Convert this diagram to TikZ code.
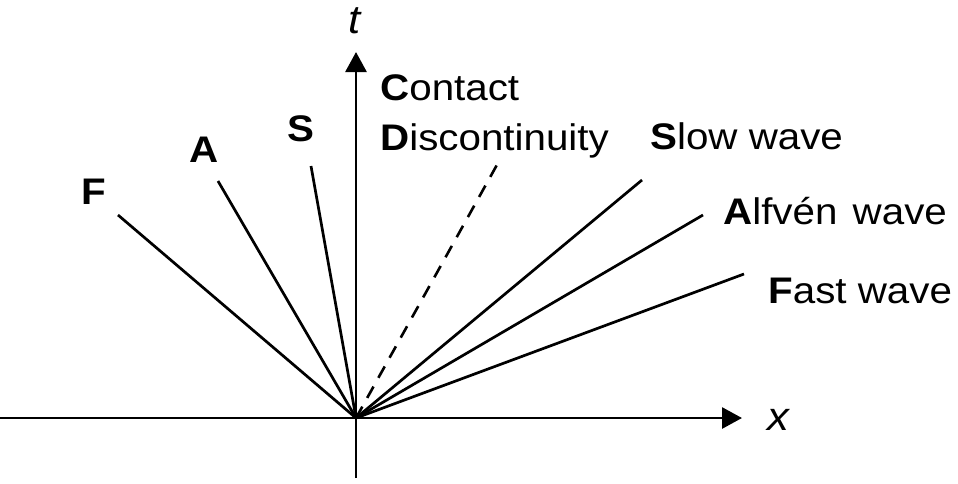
\documentclass[tikz,border=0pt]{standalone}
\usepackage{fontspec}
\setmainfont{Liberation Sans}[FakeStretch=1.09]
\usetikzlibrary{arrows.meta}
\begin{document}
\begin{tikzpicture}[x=1pt,y=-1pt,
  axis/.style={line width=2.8pt,-{Triangle[length=20pt,width=21pt]}},
  wave/.style={line width=2.7pt},
  cdline/.style={line width=2.6pt,dash pattern=on 13pt off 10pt},
  lbl/.style={inner sep=0pt,anchor=base west,font=\fontsize{37}{44}\selectfont},
  axlbl/.style={inner sep=0pt,anchor=base,font=\fontsize{40}{46}\selectfont\itshape}]
\useasboundingbox (0,0) rectangle (958,483);
\coordinate (O) at (356,418);
\coordinate (xl) at (0,418);
\coordinate (xr) at (742,418);
\coordinate (tb) at (356,478);
\coordinate (tt) at (356,52);
\draw[axis] (xl) -- (xr);
\draw[axis] (tb) -- (tt);
\node[axlbl] (tlab) at (355,33) {t};
\node[axlbl] (xlab) at (778,430) {x};
% wave end points
\coordinate (Fl) at (118,215);
\coordinate (Al) at (218,181);
\coordinate (Sl) at (311,166);
\coordinate (CD) at (498,163);
\coordinate (Sr) at (642,180);
\coordinate (Ar) at (703,215);
\coordinate (Fr) at (744,274);
\draw[wave] (O) -- (Fl);
\draw[wave] (O) -- (Al);
\draw[wave] (O) -- (Sl);
\draw[cdline] (O) -- (CD);
\draw[wave] (O) -- (Sr);
\draw[wave] (O) -- (Ar);
\draw[wave] (O) -- (Fr);
% labels
\node[lbl] (lF) at (81,204) {\textbf{F}};
\node[lbl] (lA) at (189,162) {\textbf{A}};
\node[lbl] (lS) at (287,141) {\textbf{S}};
\node[lbl] (lC) at (380,100) {\textbf{C}ontact};
\node[lbl] (lD) at (380,150) {\textbf{D}iscontinuity};
\node[lbl] (lSr) at (650,149) {\textbf{S}low wave};
\node[lbl] (lAr) at (723,224) {\textbf{A}lfvén\hspace{4pt} wave};
\node[lbl] (lFr) at (768,303) {\textbf{F}ast wave};
\end{tikzpicture}
\end{document}
